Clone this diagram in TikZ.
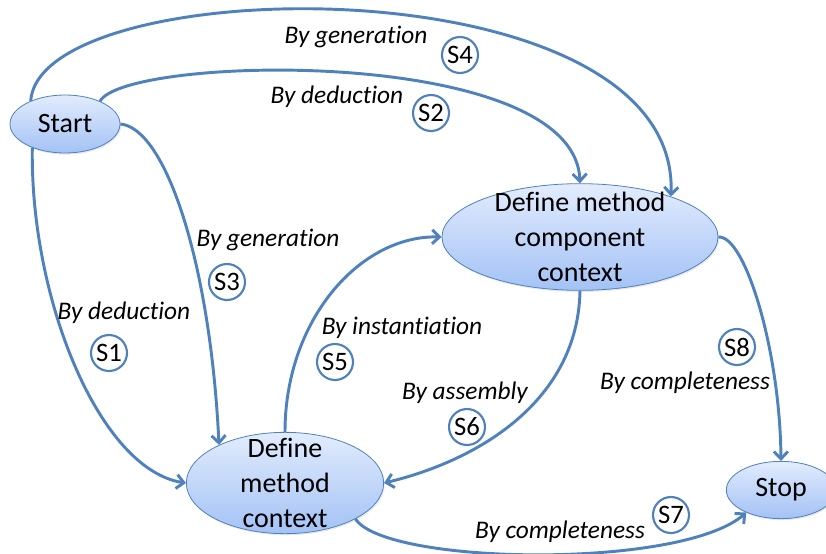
\documentclass[tikz,border=0pt]{standalone}
\usepackage{fontspec}
\setmainfont{Carlito}[Ligatures=NoCommon]
\usetikzlibrary{shapes.geometric,arrows.meta,shadows}
\definecolor{lineblue}{RGB}{79,129,189}
\definecolor{topblue}{RGB}{226,236,253}
\definecolor{botblue}{RGB}{163,194,245}

\begin{document}
\begin{tikzpicture}[x=0.75pt,y=-0.75pt,
    stat/.style={ellipse,draw=lineblue,line width=0.6pt,top color=topblue,bottom color=botblue,
        drop shadow={opacity=0.18,shadow xshift=0.8pt,shadow yshift=-1.2pt},
        inner xsep=0pt,inner ysep=-12pt,align=center,font=\fontsize{21}{26}\selectfont},
    tag/.style={circle,draw=lineblue,line width=1.6pt,fill=white,inner sep=0pt,minimum size=27pt,
        font=\fontsize{20}{22}\selectfont},
    lbl/.style={inner sep=0pt,font=\fontsize{19}{22}\selectfont\itshape},
    flow/.style={->,>={Straight Barb[length=5.5pt,width=10.5pt]},draw=lineblue,line width=2.2pt}]

    \useasboundingbox (0,0) rectangle (826,554);

    % states
    \node[stat,minimum width=82.5pt,minimum height=43.5pt] (start) at (65,124) {Start};
    \node[stat,minimum width=207pt,minimum height=80pt] (dmcc) at (580,237) {Define method\\component\\context};
    \node[stat,minimum width=148pt,minimum height=76pt] (dmc) at (285,483) {Define\\method\\context};
    \node[stat,minimum width=82pt,minimum height=43pt] (stop) at (781,490) {Stop};

    % transitions
    \draw[flow] (start.146) .. controls (40,-30) and (680,-40) .. (dmcc.24);   %S4
    \draw[flow] (start.33) .. controls (125,55) and (575,45) .. (dmcc.north);  %S2
    \draw[flow] (start.east) .. controls (165,128) and (210,260) .. (dmc.150); %S3
    \draw[flow] (start.216) .. controls (30,300) and (100,470) .. (dmc.west);  %S1
    \draw[flow] (dmc.north) .. controls (285,320) and (360,235) .. (dmcc.west); %S5
    \draw[flow] (dmcc.south) .. controls (578,400) and (480,460) .. (dmc.east); %S6
    \draw[flow] (dmc.333) .. controls (385,565) and (680,570) .. (stop.213);  %S7
    \draw[flow] (dmcc.east) .. controls (745,235) and (780,350) .. (stop.north); %S8

    % labels
    \node[lbl] (l4) at (356,37) {By generation};
    \node[lbl] (l2) at (337,97) {By deduction};
    \node[lbl] (l3) at (268,240) {By generation};
    \node[lbl] (l1) at (124,313) {By deduction};
    \node[lbl] (l5) at (402,328) {By instantiation};
    \node[lbl] (l6) at (465,393) {By assembly};
    \node[lbl] (l8) at (685,383) {By completeness};
    \node[lbl] (l7) at (560,532) {By completeness};

    \foreach \n/\x/\y in {1/109/353,2/431/113,3/227/282,4/460/55,5/335/362,6/467/427,7/671/515,8/737/347}
        \node[tag] (s\n) at (\x,\y) {S\n};

\end{tikzpicture}
\end{document}
